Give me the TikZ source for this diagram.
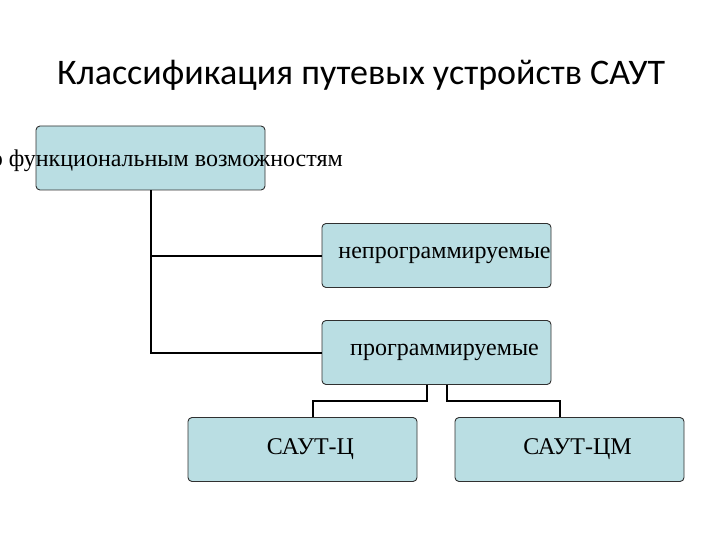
\documentclass[tikz,border=0pt]{standalone}
\usepackage{fontspec}
\setmainfont{Liberation Serif}
\newfontfamily\titlefont{Carlito}
\definecolor{boxfill}{HTML}{BADEE3}
\definecolor{boxline}{HTML}{303030}
\begin{document}
\begin{tikzpicture}[x=1pt,y=-1pt,
  box/.style={draw=boxline,line width=0.9pt,fill=boxfill,rounded corners=4pt,
    minimum width=229pt,minimum height=64pt,inner sep=0pt,align=center,
    font=\fontsize{24}{28}\selectfont},
  conn/.style={draw=black,line width=2pt},
  lbl/.style={font=\fontsize{24}{28}\selectfont,inner sep=0pt}]
\useasboundingbox (0,0) rectangle (720,540);
\clip (0,0) rectangle (720,540);
\node[font=\titlefont\fontsize{36}{42}\selectfont,anchor=base,inner sep=0pt] (title) at (361,85) {Классификация путевых устройств САУТ};
% boxes
\node[box] (top) at (150.5,158) {};
\node[box] (np) at (436.5,255.5) {\hspace*{16pt}непрограммируемые};
\node[box] (pr) at (436.5,352.5) {\hspace*{16pt}программируемые};
\node[box] (c) at (302.5,449.5) {\hspace*{16pt}САУТ-Ц};
\node[box] (cm) at (569.5,449.5) {\hspace*{16pt}САУТ-ЦМ};
\node[lbl,anchor=base east] (toptext) at (343,166.5) {по функциональным возможностям};
% connectors
\coordinate (v) at (150.5,0);
\coordinate (cmdrop) at (560,0);
\coordinate (cdrop) at (313,0);
\draw[conn] (top.south -| v) |- (np.west);
\draw[conn] (top.south -| v) |- (pr.west);
\draw[conn] ([xshift=-10pt]pr.south) -- ++(0,16.5) -| (c.north -| cdrop);
\draw[conn] ([xshift=10pt]pr.south) -- ++(0,16.5) -| (cm.north -| cmdrop);
\end{tikzpicture}
\end{document}
